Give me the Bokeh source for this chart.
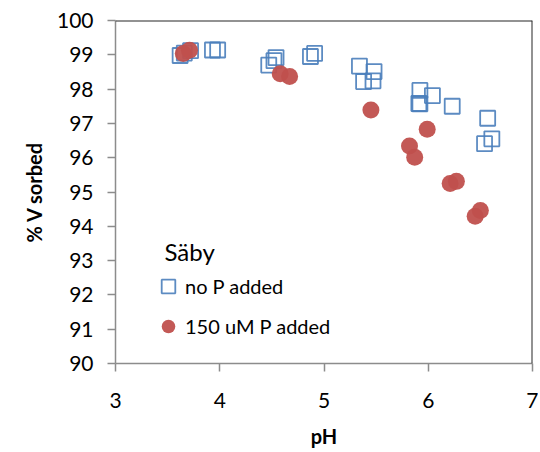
from bokeh.plotting import figure
from bokeh.models import Range1d, Span, Legend, LegendItem, Label, FixedTicker
from bokeh.embed import file_html
from bokeh.resources import INLINE

# no P added (open squares)
ph_noP = [3.62, 3.66, 3.72, 3.93, 3.98, 4.47, 4.52, 4.54, 4.87, 4.91, 5.34, 5.38,
          5.47, 5.48, 5.91, 5.92, 5.92, 6.04, 6.23, 6.57, 6.54, 6.61]
v_noP = [98.98, 99.05, 99.12, 99.14, 99.14, 98.70, 98.83, 98.92, 98.95, 99.04, 98.67, 98.22,
         98.24, 98.51, 97.58, 97.96, 97.57, 97.81, 97.50, 97.15, 96.41, 96.55]
# 150 uM P added (filled circles)
ph_P = [3.65, 3.71, 4.58, 4.67, 5.45, 5.82, 5.87, 5.99, 6.21, 6.27, 6.45, 6.50]
v_P = [99.04, 99.13, 98.45, 98.37, 97.39, 96.34, 96.01, 96.83, 95.25, 95.31, 94.29, 94.46]

x_ticks = [3, 4, 5, 6, 7]
y_ticks = [90, 91, 92, 93, 94, 95, 96, 97, 98, 99, 100]

FONT = "Lato"
GREY = "#8c8c8c"

p = figure(width=538, height=450, x_range=Range1d(3, 7), y_range=Range1d(90, 100),
           output_backend="svg", toolbar_location=None,
           min_border_left=115, min_border_right=6, min_border_top=20, min_border_bottom=87)
p.outline_line_color = None
p.grid.visible = False

for ax in (p.xaxis[0], p.yaxis[0]):
    ax.axis_line_color = GREY
    ax.axis_line_width = 1.5
    ax.major_tick_line_color = GREY
    ax.major_tick_line_width = 1.5
    ax.major_tick_in = 0
    ax.major_tick_out = 8
    ax.minor_tick_line_color = None
    ax.major_label_text_font = FONT
    ax.major_label_text_font_size = "21px"
    ax.major_label_text_color = "#000000"
    ax.axis_label_text_font = FONT
    ax.axis_label_text_font_size = "20px"
    ax.axis_label_text_font_style = "bold"
    ax.axis_label_text_color = "#000000"

p.xaxis[0].ticker = FixedTicker(ticks=x_ticks)
p.yaxis[0].ticker = FixedTicker(ticks=y_ticks)
p.xaxis[0].axis_label = "pH"
p.yaxis[0].axis_label = "% V sorbed"
p.xaxis[0].major_label_standoff = 21
p.yaxis[0].major_label_standoff = 14
p.xaxis[0].axis_label_standoff = 13
p.yaxis[0].axis_label_standoff = 8

p.add_layout(Span(location=100, dimension="width", line_color="#262626", line_width=2))
p.add_layout(Span(location=7, dimension="height", line_color="#262626", line_width=2))

r_sq = p.scatter(ph_noP, v_noP, marker="square", size=15, fill_color=None,
                 line_color="#4a7ebb", line_width=1.8, line_alpha=0.9)
r_ci = p.scatter(ph_P, v_P, marker="circle", size=17, fill_color="#c0504d",
                 fill_alpha=0.95, line_color=None)

legend = Legend(items=[LegendItem(label="no P added", renderers=[r_sq]),
                       LegendItem(label="150 uM P added", renderers=[r_ci])],
                location=(36, 19), orientation="vertical",
                glyph_width=34, glyph_height=36, label_standoff=0, spacing=4,
                padding=0, margin=0, border_line_color=None, background_fill_alpha=0,
                label_text_font=FONT, label_text_font_size="20px", label_text_color="#000000")
p.add_layout(legend, "center")

p.add_layout(Label(x=3.47, y=93.27, text="Säby", text_font=FONT, text_font_size="24px",
                   text_color="#000000", text_baseline="alphabetic"))

open("out.html", "w").write(file_html(p, INLINE))
